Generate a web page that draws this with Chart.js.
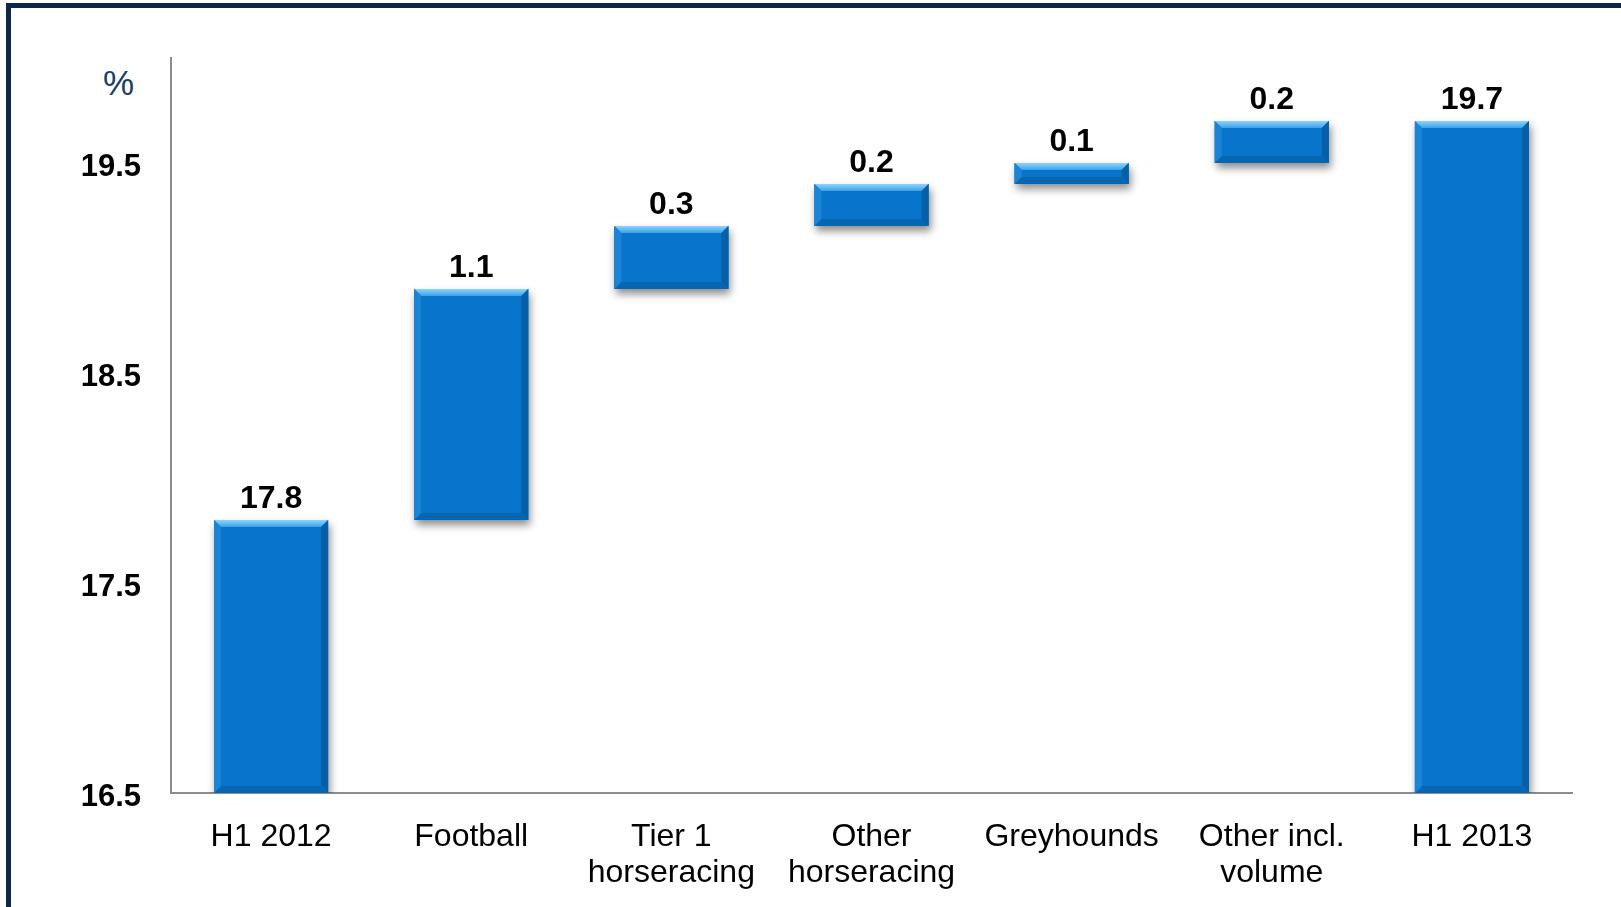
<!DOCTYPE html>
<html>
<head>
<meta charset="utf-8">
<script src="https://cdn.jsdelivr.net/npm/chart.js@4"></script>
<style>
  html,body{margin:0;padding:0;background:#fff;overflow:hidden}
  .frame{position:absolute;left:6px;top:3px;width:1700px;height:1000px;border-top:5px solid #0c2747;border-left:5px solid #0c2747;box-sizing:border-box}
  .unit{position:absolute;left:103px;top:63px;font:35px "Liberation Sans",Arial,sans-serif;color:#17406d}
  canvas{position:absolute;left:0;top:0}
</style>
</head>
<body>
<div class="frame"></div>
<div class="unit">%</div>
<canvas id="bridge" width="1621" height="907"></canvas>
<script>
const categories = [['H1 2012'], ['Football'], ['Tier 1','horseracing'], ['Other','horseracing'], ['Greyhounds'], ['Other incl.','volume'], ['H1 2013']];
const changes = [17.8, 1.1, 0.3, 0.2, 0.1, 0.2, 19.7];
const isTotal = [true, false, false, false, false, false, true];
const yTicks = [16.5, 17.5, 18.5, 19.5];
const yMin = 16.5, yMax = 20;

// running total -> floating bars
let run = 0;
const bars = changes.map((c,i) => {
  if (isTotal[i]) { run = c; return c; }
  const from = run; run = Math.round((run + c)*10)/10;
  return [from, run];
});

const bevel = {
  id:'bevel',
  beforeDatasetsDraw(chart){
    const {ctx, chartArea:a} = chart;
    ctx.save();
    ctx.beginPath(); ctx.rect(a.left, a.top-40, a.right-a.left, a.bottom-a.top+40); ctx.clip();
    ctx.shadowColor='rgba(0,0,0,0.45)'; ctx.shadowBlur=8; ctx.shadowOffsetX=2; ctx.shadowOffsetY=5;
    ctx.fillStyle='#0874cc';
    chart.getDatasetMeta(0).data.forEach(b => {
      const {x,y,base,width} = b.getProps(['x','y','base','width'], true);
      const t = Math.max(Math.min(y,base), a.top), btm = Math.min(Math.max(y,base), a.bottom);
      ctx.fillRect(x-width/2, t, width, btm-t);
    });
    ctx.restore();
  },
  afterDatasetsDraw(chart){
    const {ctx, chartArea:a} = chart;
    ctx.save();
    chart.getDatasetMeta(0).data.forEach((b,i) => {
      const {x,y,base,width} = b.getProps(['x','y','base','width'], true);
      const l = x-width/2, r = x+width/2;
      const t = Math.max(Math.min(y,base), a.top), btm = Math.min(Math.max(y,base), a.bottom);
      const s = Math.min(7, (btm-t)/3);
      const poly = (pts, fill) => { ctx.beginPath(); ctx.moveTo(pts[0],pts[1]); for (let k=2;k<pts.length;k+=2) ctx.lineTo(pts[k],pts[k+1]); ctx.closePath(); ctx.fillStyle=fill; ctx.fill(); };
      const g = ctx.createLinearGradient(0,t,0,t+s);
      g.addColorStop(0,'#8fd3fb'); g.addColorStop(1,'#3aa2ea');
      poly([l,t, r,t, r-s,t+s, l+s,t+s], g);
      poly([r,t, r,btm, r-s,btm-s, r-s,t+s], '#0560a8');
      poly([l,btm, r,btm, r-s,btm-s, l+s,btm-s], '#0766b2');
      poly([l,t, l+s,t+s, l+s,btm-s, l,btm], '#1a84d6');
      // value label
      ctx.fillStyle='#000'; ctx.font='bold 32px "Liberation Sans", Arial, sans-serif';
      ctx.textAlign='center'; ctx.textBaseline='alphabetic';
      ctx.fillText(changes[i].toFixed(1), x, t-12);
    });
    ctx.restore();
  }
};

new Chart(document.getElementById('bridge'), {
  type:'bar',
  data:{ labels: categories, datasets:[{ data: bars, backgroundColor:'#0874cc', borderWidth:0, barPercentage:0.57, categoryPercentage:1 }] },
  options:{
    responsive:false, animation:false,
    layout:{ padding:{ left:0, right:49, top:58, bottom:0 } },
    plugins:{ legend:{ display:false }, tooltip:{ enabled:false } },
    scales:{
      x:{
        grid:{ display:false, drawTicks:false },
        border:{ display:true, color:'#8c8c8c', width:2 },
        ticks:{ color:'#000', padding:26, font:{ family:'"Liberation Sans", Arial, sans-serif', size:32, lineHeight:1.13 }, maxRotation:0, autoSkip:false },
        afterFit(s){ s.height = 114; }
      },
      y:{
        min:yMin, max:yMax,
        grid:{ display:false, drawTicks:false },
        border:{ display:true, color:'#8c8c8c', width:2 },
        ticks:{ color:'#000', padding:30, labelOffset:4, font:{ family:'"Liberation Sans", Arial, sans-serif', size:31, weight:'bold' }, callback:v => v.toFixed(1) },
        afterBuildTicks(s){ s.ticks = yTicks.map(v => ({ value:v })); },
        afterFit(s){ s.width = 171; }
      }
    }
  },
  plugins:[bevel]
});
</script>
</body>
</html>
